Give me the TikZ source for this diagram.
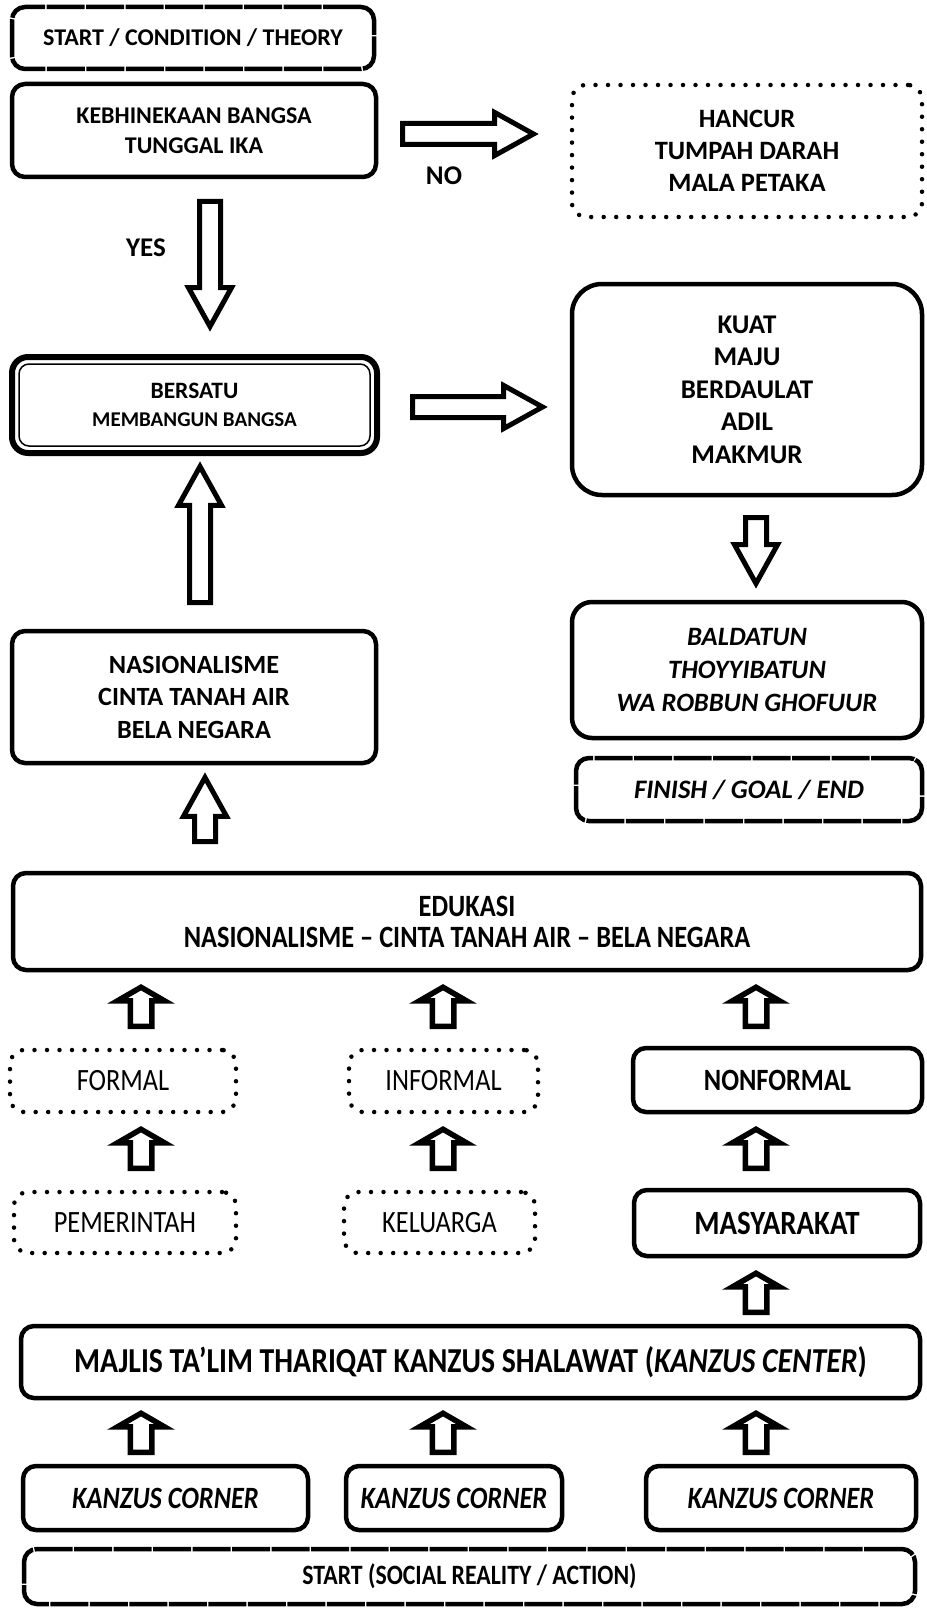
\documentclass[tikz,border=0pt]{standalone}
\usepackage{fontspec}
\setmainfont{Carlito}
\newfontfamily\narrowfont{Carlito}[FakeStretch=0.85]
\usetikzlibrary{shapes.arrows}

\begin{document}
\begin{tikzpicture}[
  x=1pt, y=-1pt,
  box/.style={draw, line width=4.5pt, rounded corners=13pt, align=center, inner sep=0pt, outer sep=0pt},
  edgebox/.style={box, dash pattern=on 38pt off 1.5pt},
  dotbox/.style={draw, line width=4.5pt, line cap=round, dash pattern=on 0pt off 12.5pt, rounded corners=14pt, align=center, inner sep=0pt, outer sep=0pt},
  bigarrow/.style={single arrow, draw, line width=5pt, anchor=tail, text height=0pt, text depth=0pt, inner sep=8pt, single arrow tip angle=58, single arrow head extend=11pt},
  smallarrow/.style={single arrow, draw, line width=5.5pt, anchor=tail, text height=0pt, text depth=0pt, inner sep=8pt, single arrow tip angle=120, single arrow head extend=13pt, minimum height=39pt, shape border rotate=90},
  lower/.style={font=\narrowfont\fontsize{31}{31}\selectfont\bfseries},
  lowerplain/.style={font=\narrowfont\fontsize{31}{31}\selectfont}
]
\useasboundingbox (0,0) rectangle (926,1608);

% left column, top
\node[edgebox, minimum width=362pt, minimum height=62pt, font=\fontsize{24}{29}\selectfont\bfseries] (start) at (193,38) {START / CONDITION / THEORY};
\node[box, minimum width=364pt, minimum height=93pt, font=\fontsize{24}{29.5}\selectfont\bfseries] (kebhinekaan) at (194,130.5) {KEBHINEKAAN BANGSA\\TUNGGAL IKA};
\node[dotbox, minimum width=350pt, minimum height=132pt, font=\fontsize{26.5}{32}\selectfont\bfseries] (hancur) at (747,151) {HANCUR\\TUMPAH DARAH\\MALA PETAKA};

\node[bigarrow, minimum height=131pt] (noarrow) at (400,134) {};
\node[font=\fontsize{27}{27}\selectfont\bfseries] (no) at (444,176) {NO};
\node[bigarrow, shape border rotate=270, minimum height=125pt] (yesarrow) at (210,199) {};
\node[font=\fontsize{27}{27}\selectfont\bfseries] (yes) at (146,248) {YES};

\node[box, line width=6pt, rounded corners=16pt, minimum width=365pt, minimum height=96pt, font=\fontsize{23.5}{27.5}\selectfont\bfseries] (bersatu) at (194.5,405)
  {BERSATU\\{\fontsize{21}{27.5}\selectfont MEMBANGUN BANGSA}};
\draw[line width=1.5pt, rounded corners=10pt] ([shift={(7pt,7pt)}]bersatu.south west) rectangle ([shift={(-7pt,-7pt)}]bersatu.north east);

\node[bigarrow, minimum height=130pt] (rightarrow) at (410,407) {};
\node[box, rounded corners=30pt, minimum width=350pt, minimum height=211pt, font=\fontsize{27}{32.5}\selectfont\bfseries] (kuat) at (747,389.5) {KUAT\\MAJU\\BERDAULAT\\ADIL\\MAKMUR};
\node[bigarrow, shape border rotate=270, minimum height=66pt] (downarrow) at (756,515) {};
\node[box, rounded corners=20pt, minimum width=350pt, minimum height=136pt, font=\fontsize{26.5}{32.8}\selectfont\bfseries\itshape] (baldatun) at (747,670) {BALDATUN\\THOYYIBATUN\\WA ROBBUN GHOFUUR};
\node[edgebox, minimum width=346pt, minimum height=63pt, font=\fontsize{26.7}{30}\selectfont\bfseries\itshape] (finish) at (749,789.5) {FINISH / GOAL / END};

\node[bigarrow, shape border rotate=90, minimum height=136pt] (uparrow) at (200,605) {};
\node[box, minimum width=364pt, minimum height=132pt, font=\fontsize{26.3}{32.5}\selectfont\bfseries] (nasionalisme) at (194,697) {NASIONALISME\\CINTA TANAH AIR\\BELA NEGARA};
\node[bigarrow, shape border rotate=90, minimum height=64pt] (nasarrow) at (205,844) {};

% lower part
\node[box, lower, minimum width=908pt, minimum height=97pt] (edukasi) at (467,921.5) {EDUKASI\\NASIONALISME – CINTA TANAH AIR – BELA NEGARA};

\node[dotbox, lowerplain, minimum width=226pt, minimum height=62pt] (formal) at (123,1081) {FORMAL};
\node[dotbox, lowerplain, minimum width=189pt, minimum height=62pt] (informal) at (443.5,1081) {INFORMAL};
\node[box, lower, minimum width=289pt, minimum height=64pt] (nonformal) at (777.5,1080) {NONFORMAL};

\node[dotbox, lowerplain, minimum width=222pt, minimum height=61pt] (pemerintah) at (125,1222.5) {PEMERINTAH};
\node[dotbox, lowerplain, minimum width=191pt, minimum height=61pt] (keluarga) at (439.5,1222.5) {KELUARGA};
\node[box, font=\narrowfont\fontsize{34}{34}\selectfont\bfseries, minimum width=286pt, minimum height=66pt] (masyarakat) at (777,1223) {MASYARAKAT};

\foreach \x/\n in {141/a,443/b,756/c} {
  \node[smallarrow] (eduarrow\n) at (\x,1029) {};
  \node[smallarrow] (srcarrow\n) at (\x,1171) {};
  \node[smallarrow] (cornerarrow\n) at (\x,1455) {};
}
\node[smallarrow] (masyarrow) at (756,1315) {};

\node[box, font=\narrowfont\fontsize{35}{35}\selectfont\bfseries, minimum width=899pt, minimum height=72pt] (majlis) at (470.5,1362) {MAJLIS TA’LIM THARIQAT KANZUS SHALAWAT (\textit{KANZUS CENTER})};

\node[box, font=\narrowfont\fontsize{31}{31}\selectfont\bfseries\itshape, minimum width=285pt, minimum height=64pt] (cornera) at (165.5,1498) {KANZUS CORNER};
\node[box, font=\narrowfont\fontsize{31}{31}\selectfont\bfseries\itshape, minimum width=216pt, minimum height=64pt] (cornerb) at (454,1498) {KANZUS CORNER};
\node[box, font=\narrowfont\fontsize{31}{31}\selectfont\bfseries\itshape, minimum width=270pt, minimum height=64pt] (cornerc) at (781,1498) {KANZUS CORNER};

\node[edgebox, font=\narrowfont\fontsize{28}{28}\selectfont\bfseries, minimum width=891pt, minimum height=55pt] (social) at (469.5,1576.5) {START (SOCIAL REALITY / ACTION)};
\end{tikzpicture}
\end{document}
